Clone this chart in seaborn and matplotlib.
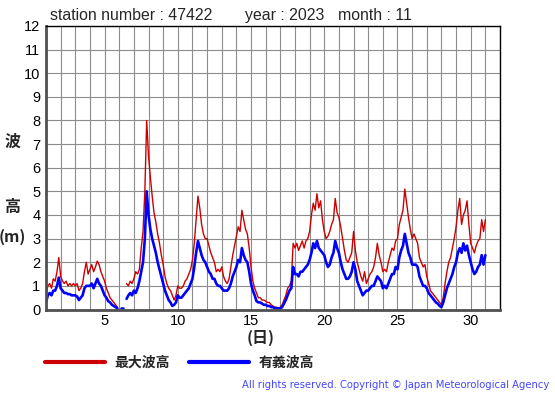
import numpy as np
import pandas as pd
import matplotlib
matplotlib.use("Agg")
import matplotlib.pyplot as plt
import seaborn as sns
from matplotlib.lines import Line2D

nan = np.nan

station_number = "47422"
year = "2023"
month = "11"
x_tick_days = [5, 10, 15, 20, 25, 30]
y_tick_values = list(range(0, 13))
series_names = ["最大波高", "有義波高"]

# 3-hourly values from Nov 1 00h to Dec 1 00h
max_wave = [
    0.6, 1.0, 1.1, 0.9, 1.3, 1.2, 1.6, 2.2,
    1.4, 1.2, 1.1, 1.2, 1.0, 1.1, 1.0, 1.1,
    1.0, 1.1, 0.8, 0.9, 1.1, 1.6, 2.0, 1.5,
    1.7, 1.9, 1.6, 1.8, 2.05, 1.9, 1.6, 1.4,
    1.2, 0.9, 0.7, 0.5, 0.4, 0.3, 0.2, 0.1,
    nan, nan, nan, nan, 1.1, 1.0, 1.2, 1.1,
    1.3, 1.6, 1.5, 1.7, 2.6, 3.3, 5.0, 8.0,
    6.5, 5.6, 4.8, 4.1, 3.7, 3.2, 2.8, 2.3,
    1.9, 1.4, 1.1, 0.9, 0.8, 0.6, 0.4, 0.6,
    1.0, 0.9, 0.9, 1.0, 1.2, 1.3, 1.5, 1.7,
    2.1, 2.8, 3.8, 4.8, 4.3, 3.6, 3.2, 3.0,
    3.0, 2.7, 2.4, 2.2, 2.0, 1.6, 1.7, 1.6,
    1.8, 1.4, 1.2, 1.1, 1.3, 1.8, 2.3, 2.7,
    3.1, 3.5, 3.3, 4.2, 3.8, 3.4, 3.2, 2.6,
    1.8, 1.2, 0.9, 0.7, 0.5, 0.5, 0.4, 0.4,
    0.35, 0.3, 0.3, 0.2, 0.15, 0.1, 0.1, 0.05,
    0.1, 0.2, 0.4, 0.6, 0.9, 1.0, 1.2, 2.8,
    2.6, 2.8, 2.5, 2.7, 2.9, 2.6, 2.9, 3.0,
    3.3, 4.0, 4.5, 4.2, 4.9, 4.3, 4.6, 3.8,
    3.3, 3.0, 3.1, 3.3, 3.6, 3.8, 4.7, 4.1,
    3.9, 3.5, 3.0, 2.5, 2.1, 2.0, 2.2, 2.4,
    3.3, 2.5, 2.0, 1.7, 1.4, 1.2, 1.6, 1.1,
    1.3, 1.5, 1.6, 1.8, 2.2, 2.8, 2.3, 2.0,
    1.6, 1.7, 1.6, 2.0, 2.3, 2.6, 2.5, 2.9,
    3.0, 3.6, 3.9, 4.2, 5.1, 4.5, 3.9, 3.4,
    3.0, 3.2, 3.0, 2.8, 2.2, 2.0, 1.8, 1.9,
    1.4, 1.1, 0.8, 0.7, 0.6, 0.5, 0.4, 0.3,
    0.2, 0.5, 1.1, 1.6, 2.0, 2.2, 2.6, 3.0,
    3.5, 4.2, 4.7, 3.6, 4.0, 4.2, 4.6, 3.6,
    2.8, 2.6, 2.4, 2.7, 2.9, 3.0, 3.8, 3.3,
    3.8,
]

sig_wave = [
    0.3, 0.6, 0.7, 0.6, 0.8, 0.8, 1.0, 1.35,
    0.9, 0.8, 0.7, 0.7, 0.65, 0.65, 0.6, 0.6,
    0.6, 0.55, 0.4, 0.5, 0.6, 0.9, 1.0, 1.0,
    1.0, 1.1, 0.9, 1.1, 1.3, 1.1, 1.0, 0.8,
    0.6, 0.5, 0.35, 0.3, 0.2, 0.15, 0.1, 0.05,
    nan, 0.05, 0.05, nan, 0.45, 0.6, 0.7, 0.6,
    0.8, 0.7, 0.9, 1.2, 1.6, 2.0, 3.0, 5.0,
    4.0, 3.4, 3.0, 2.7, 2.4, 2.0, 1.7, 1.4,
    1.1, 0.8, 0.6, 0.4, 0.3, 0.15, 0.2, 0.3,
    0.6, 0.5, 0.5, 0.6, 0.7, 0.8, 0.9, 1.1,
    1.3, 1.8, 2.4, 2.9, 2.6, 2.3, 2.1, 2.0,
    1.8, 1.6, 1.5, 1.3, 1.3, 1.1, 1.0, 1.0,
    0.9, 0.8, 0.8, 0.8, 0.9, 1.1, 1.4, 1.6,
    1.8, 2.1, 2.0, 2.6, 2.3, 2.1, 2.0, 1.6,
    1.1, 0.8, 0.6, 0.35, 0.3, 0.3, 0.25, 0.2,
    0.2, 0.15, 0.15, 0.1, 0.1, 0.05, 0.05, 0.05,
    0.05, 0.1, 0.25, 0.4, 0.6, 0.8, 0.9, 1.8,
    1.5, 1.5, 1.4, 1.6, 1.6, 1.7, 1.8, 1.9,
    2.1, 2.4, 2.8, 2.6, 2.9, 2.6, 2.5, 2.4,
    2.3, 2.0, 1.8, 1.9, 2.2, 2.4, 2.9, 2.6,
    2.4, 2.0, 1.7, 1.5, 1.3, 1.3, 1.4, 1.6,
    2.0, 1.7, 1.2, 1.0, 0.8, 0.6, 0.7, 0.8,
    0.8, 0.9, 1.0, 1.0, 1.2, 1.4, 1.3, 1.2,
    0.9, 1.0, 0.9, 1.1, 1.3, 1.5, 1.5, 1.8,
    1.7, 2.2, 2.5, 2.7, 3.2, 2.8, 2.4, 2.2,
    1.9, 1.9, 1.9, 1.8, 1.4, 1.2, 1.0, 1.0,
    0.9, 0.7, 0.6, 0.5, 0.4, 0.3, 0.25, 0.15,
    0.1, 0.3, 0.6, 0.9, 1.1, 1.3, 1.5, 1.8,
    2.0, 2.4, 2.6, 2.4, 2.8, 2.5, 2.7, 2.3,
    2.0, 1.7, 1.5, 1.6, 1.8, 1.9, 2.3, 1.9,
    2.3,
]

RED = "#cc0000"
BLUE = "#0000ff"
CJK = ["Noto Sans CJK JP", "DejaVu Sans"]


def to_frame(values):
    v = np.asarray(values, dtype=float)
    t = 1 + np.arange(len(v)) / 8.0
    seg = np.cumsum(np.isnan(v))
    df = pd.DataFrame({"day": t, "height": v, "seg": seg})
    return df.dropna()


sns.set_style("white")
plt.rcParams["font.family"] = ["Liberation Sans", "DejaVu Sans"]

W, H = 555, 395
fig = plt.figure(figsize=(W / 100, H / 100), dpi=100)
ax = fig.add_axes([46 / W, 1 - 309.5 / H, (500 - 46) / W, (309.5 - 26) / H])

sns.lineplot(data=to_frame(max_wave), x="day", y="height", units="seg",
             estimator=None, color=RED, linewidth=1.0, ax=ax)
sns.lineplot(data=to_frame(sig_wave), x="day", y="height", units="seg",
             estimator=None, color=BLUE, linewidth=1.9, ax=ax)

ax.set_xlim(1, 32)
ax.set_ylim(0, 12)
ax.set_xticks(range(1, 33))
ax.set_xticklabels([str(d) if d in x_tick_days else "" for d in range(1, 33)])
ax.set_yticks(y_tick_values)
ax.set_yticklabels([str(v) for v in y_tick_values])
ax.tick_params(axis="both", length=0, labelsize=10.5, colors="black")
ax.tick_params(axis="y", pad=4)
ax.tick_params(axis="x", pad=3)
ax.grid(True, color="#8c8c8c", linewidth=0.8)
ax.set_axisbelow(True)
ax.set_xlabel("")
ax.set_ylabel("")
for s in ["top", "right"]:
    ax.spines[s].set_color("black")
    ax.spines[s].set_linewidth(1.0)
for s in ["left", "bottom"]:
    ax.spines[s].set_color("#505050")
    ax.spines[s].set_linewidth(2.0)

# title texts
ty = 1 - 15.5 / H
fig.text(50 / W, ty, f"station number : {station_number}", fontsize=11.4, va="center", ha="left")
fig.text(245 / W, ty, f"year : {year}", fontsize=11.4, va="center", ha="left")
fig.text(338 / W, ty, f"month : {month}", fontsize=11.4, va="center", ha="left")

# y label (vertical stacked)
fig.text(12.5 / W, 1 - 142 / H, "波", family=CJK, fontsize=11.5, fontweight="bold", ha="center", va="center")
fig.text(12.5 / W, 1 - 207 / H, "高", family=CJK, fontsize=11.5, fontweight="bold", ha="center", va="center")
fig.text(12.5 / W, 1 - 237 / H, "(m)", family=CJK, fontsize=11.5, fontweight="bold", ha="center", va="center")

# x label
fig.text(261 / W, 1 - 338 / H, "(日)", family=CJK, fontsize=11.5, fontweight="bold", ha="center", va="center")

# legend
handles = [Line2D([], [], color=RED, linewidth=3.0), Line2D([], [], color=BLUE, linewidth=3.0)]
leg = fig.legend(handles, series_names, loc="center left", bbox_to_anchor=(45 / W, 1 - 363 / H),
                 ncol=2, frameon=False, borderpad=0, borderaxespad=0, handlelength=4.3,
                 handletextpad=0.7, columnspacing=1.4,
                 prop={"family": CJK, "size": 10, "weight": "bold"})

# copyright
fig.text(549 / W, 1 - 385 / H, "All rights reserved. Copyright © Japan Meteorological Agency",
         color="#4646ff", fontsize=7.2, ha="right", va="center", family=["DejaVu Sans"])

fig.savefig("out.png", dpi=100)
